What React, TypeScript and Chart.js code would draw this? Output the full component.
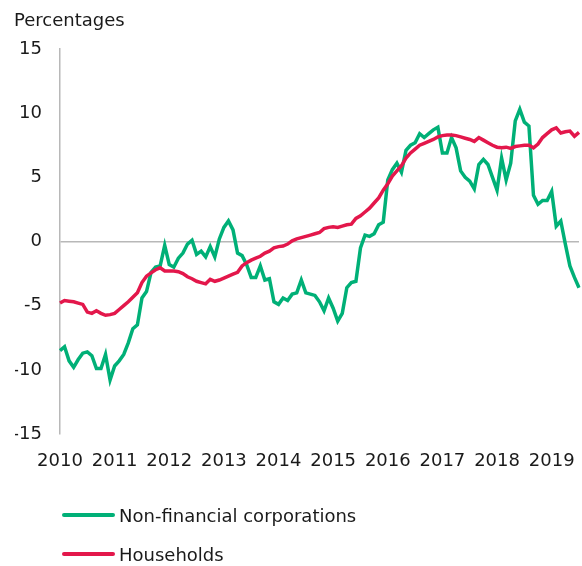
import React, { useEffect, useRef } from 'react';
import { Chart, registerables } from 'chart.js';

Chart.register(...registerables);

const years = ['2010', '2011', '2012', '2013', '2014', '2015', '2016', '2017', '2018', '2019'];
const monthsShownInLastYear = 7;

const categories: string[] = [];
years.forEach((y, yi) => {
  const n = yi === years.length - 1 ? monthsShownInLastYear : 12;
  for (let m = 1; m <= n; m++) categories.push(`${y}-${String(m).padStart(2, '0')}`);
});

const seriesNames = ['Non-financial corporations', 'Households'];
const seriesColors = ['#00b077', '#e3174b'];

const nonFinancialCorporations = [
  -8.5, -8.2, -9.3, -9.8, -9.2, -8.7, -8.6, -8.9, -9.9, -9.9, -8.8, -10.8,
  -9.7, -9.3, -8.8, -7.9, -6.8, -6.5, -4.4, -3.9, -2.4, -2.0, -1.9, -0.3,
  -1.8, -2.0, -1.3, -0.9, -0.2, 0.1, -1.0, -0.75, -1.2, -0.4, -1.2, 0.2,
  1.1, 1.6, 0.9, -0.9, -1.1, -1.8, -2.8, -2.8, -1.9, -3.0, -2.9, -4.7,
  -4.9, -4.4, -4.6, -4.1, -4.0, -3.0, -4.0, -4.1, -4.2, -4.7, -5.4, -4.4,
  -5.2, -6.2, -5.6, -3.6, -3.2, -3.1, -0.5, 0.5, 0.4, 0.6, 1.3, 1.5,
  4.8, 5.6, 6.1, 5.4, 7.1, 7.5, 7.7, 8.4, 8.1, 8.4, 8.7, 8.9,
  6.9, 6.9, 8.1, 7.3, 5.5, 5.0, 4.7, 4.1, 6.0, 6.4, 6.0, 5.0,
  4.0, 6.5, 4.8, 6.1, 9.4, 10.3, 9.3, 9.0, 3.6, 2.9, 3.2, 3.2,
  3.9, 1.2, 1.6, -0.2, -1.9, -2.8, -3.6,
];

const households = [
  -4.8, -4.6, -4.65, -4.7, -4.8, -4.9, -5.5, -5.6, -5.4, -5.6, -5.75, -5.7,
  -5.6, -5.3, -5.0, -4.7, -4.35, -4.0, -3.2, -2.7, -2.45, -2.2, -2.05, -2.3,
  -2.3, -2.3, -2.35, -2.5, -2.75, -2.9, -3.1, -3.2, -3.3, -2.95, -3.1, -3.0,
  -2.85, -2.7, -2.55, -2.4, -1.9, -1.65, -1.45, -1.3, -1.15, -0.9, -0.75, -0.5,
  -0.4, -0.35, -0.2, 0.05, 0.2, 0.3, 0.4, 0.5, 0.6, 0.7, 1.0, 1.1,
  1.15, 1.1, 1.2, 1.3, 1.35, 1.8, 2.0, 2.3, 2.6, 3.0, 3.4, 4.0,
  4.5, 5.1, 5.5, 5.9, 6.5, 6.9, 7.2, 7.5, 7.65, 7.8, 7.95, 8.15,
  8.25, 8.3, 8.3, 8.25, 8.15, 8.05, 7.95, 7.8, 8.1, 7.9, 7.7, 7.5,
  7.35, 7.3, 7.35, 7.25, 7.4, 7.45, 7.5, 7.5, 7.3, 7.6, 8.1, 8.4,
  8.7, 8.85, 8.45, 8.55, 8.6, 8.2, 8.5,
];

const yMin = -15;
const yMax = 15;
const yStep = 5;
const yAxisTitle = 'Percentages';

const FONT = '"DejaVu Sans", Verdana, sans-serif';
const TEXT = '#1a1a1a';
const AXIS_GRAY = '#b8b8b8';

export default function App() {
  const canvasRef = useRef<HTMLCanvasElement | null>(null);

  useEffect(() => {
    document.body.style.margin = '0';
    const canvas = canvasRef.current;
    if (!canvas) return;
    const chart = new Chart(canvas, {
      type: 'line',
      data: {
        labels: categories,
        datasets: [
          {
            label: seriesNames[0],
            data: nonFinancialCorporations,
            borderColor: seriesColors[0],
            backgroundColor: seriesColors[0],
            borderWidth: 3.5,
            pointRadius: 0,
            tension: 0,
            order: 1,
          },
          {
            label: seriesNames[1],
            data: households,
            borderColor: seriesColors[1],
            backgroundColor: seriesColors[1],
            borderWidth: 3.5,
            pointRadius: 0,
            tension: 0,
            order: 0,
          },
        ],
      },
      options: {
        animation: false,
        responsive: false,
        maintainAspectRatio: false,
        layout: { padding: { left: 15, top: 49, right: 3, bottom: 90 } },
        plugins: {
          legend: { display: false },
          tooltip: { enabled: false },
          title: { display: false },
        },
        scales: {
          x: {
            type: 'category',
            offset: false,
            grid: { display: false, drawTicks: false },
            border: { display: false },
            ticks: {
              autoSkip: false,
              maxRotation: 0,
              minRotation: 0,
              padding: 17,
              color: TEXT,
              font: { family: FONT, size: 18 },
              callback: (_v: any, idx: number) =>
                idx % 12 === 0 ? categories[idx].slice(0, 4) : null,
            },
            afterFit: (scale: any) => {
              scale.height = 42;
              scale.paddingRight = 0;
              scale.paddingLeft = 0;
            },
          },
          y: {
            min: yMin,
            max: yMax,
            grid: {
              drawTicks: false,
              color: (ctx: any) => (ctx.tick && ctx.tick.value === 0 ? AXIS_GRAY : 'rgba(0,0,0,0)'),
              lineWidth: 1.5,
            },
            border: { display: true, color: AXIS_GRAY, width: 1.5 },
            ticks: {
              stepSize: yStep,
              padding: 18,
              color: TEXT,
              font: { family: FONT, size: 18 },
            },
            afterFit: (scale: any) => {
              scale.width = 45;
            },
          },
        },
      },
    });
    return () => chart.destroy();
  }, []);

  const legendRow = (i: number, top: number) => (
    <div
      key={i}
      style={{
        position: 'absolute',
        left: 62,
        top,
        height: 24,
        display: 'flex',
        alignItems: 'center',
        fontFamily: FONT,
        fontSize: 18,
        color: TEXT,
        whiteSpace: 'nowrap',
      }}
    >
      <span
        style={{
          display: 'inline-block',
          width: 53,
          height: 4,
          borderRadius: 2,
          background: seriesColors[i],
          marginRight: 4,
        }}
      />
      <span>{seriesNames[i]}</span>
    </div>
  );

  return (
    <div style={{ position: 'relative', width: 582, height: 566, background: '#fff' }}>
      <canvas ref={canvasRef} width={582} height={566} style={{ position: 'absolute', left: 0, top: 0 }} />
      <div
        style={{
          position: 'absolute',
          left: 14,
          top: 8,
          height: 24,
          lineHeight: '24px',
          fontFamily: FONT,
          fontSize: 18,
          color: TEXT,
        }}
      >
        {yAxisTitle}
      </div>
      {legendRow(0, 503)}
      {legendRow(1, 542)}
    </div>
  );
}
